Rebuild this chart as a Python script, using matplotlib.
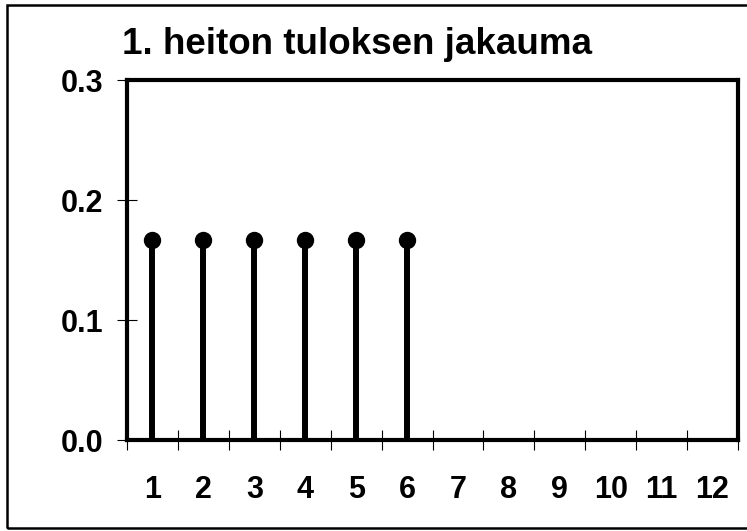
import matplotlib
matplotlib.use("Agg")
import matplotlib.pyplot as plt
from matplotlib.patches import Rectangle

plt.rcParams['font.family'] = ['Liberation Sans', 'DejaVu Sans']
plt.rcParams['font.weight'] = 'bold'

# data
outcomes = [1, 2, 3, 4, 5, 6]
probs = [1/6, 1/6, 1/6, 1/6, 1/6, 1/6]
x_labels = [str(i) for i in range(1, 13)]
y_ticks = [0.0, 0.1, 0.2, 0.3]
y_labels = ['0.0', '0.1', '0.2', '0.3']
title = '1. heiton tuloksen jakauma'

fig = plt.figure(figsize=(7.47, 5.31), dpi=100)
ax = fig.add_axes([127/747, 1 - 440/531, (738 - 127)/747, (440 - 80)/531])

ax.vlines(outcomes, 0, probs, color='black', linewidth=4.3)
ax.plot(outcomes, probs, 'o', color='black', markersize=11.5)

ax.set_xlim(0.5, 12.5)
ax.set_ylim(0, 0.3)

# ticks between categories, labels at the centres
ax.set_xticks([i + 0.5 for i in range(0, 13)])
ax.set_xticklabels([])
ax.set_xticks(range(1, 13), minor=True)
ax.set_xticklabels(x_labels, minor=True)
ax.tick_params(axis='x', which='major', direction='inout', length=14.4, width=0.8)
ax.tick_params(axis='x', which='minor', length=0, pad=25, labelsize=22)

ax.set_yticks(y_ticks)
ax.set_yticklabels(y_labels)
ax.tick_params(axis='y', direction='inout', length=14.4, width=0.8, pad=10, labelsize=22)

for s in ax.spines.values():
    s.set_linewidth(3)
    s.set_color('black')

fig.text(122/747, 1 - 45/531, title, ha='left', va='center', fontsize=26.5, fontweight='bold')

fig.patches.append(Rectangle((7/747, 3/531), 1.0, 1 - 8/531, transform=fig.transFigure,
                             fill=False, edgecolor='black', linewidth=1.8))

fig.savefig('out.png', dpi=100)
